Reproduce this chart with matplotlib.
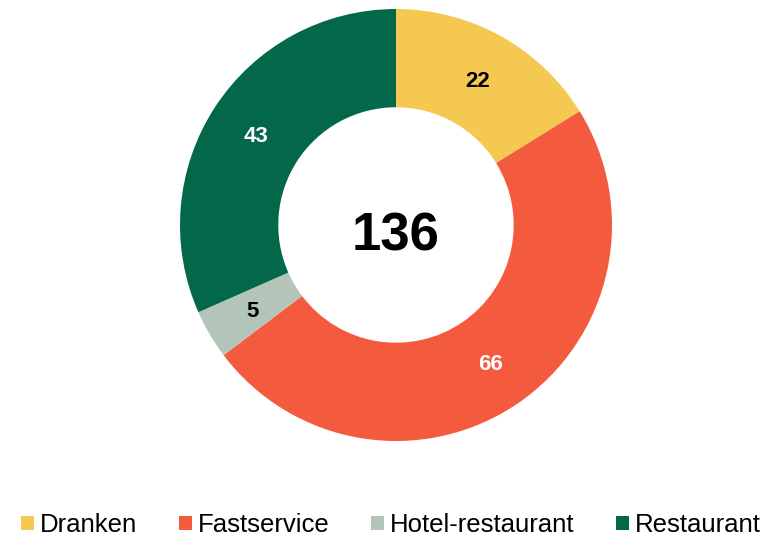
import numpy as np
import matplotlib.pyplot as plt
from matplotlib.patches import Patch

plt.rcParams['font.family'] = ['Liberation Sans', 'DejaVu Sans']

# Data
categories = ['Dranken', 'Fastservice', 'Hotel-restaurant', 'Restaurant']
values = [22, 66, 5, 43]
colors = ['#F5C851', '#F45B3E', '#B3C4B8', '#03684A']
label_colors = ['black', 'white', 'black', 'white']

W, H = 765, 540
fig = plt.figure(figsize=(W / 100, H / 100), dpi=100)

# donut centre ~ (396, 225) px, outer radius ~216 px
cx, cy, r = 396, 225, 216
ax = fig.add_axes([(cx - r) / W, (H - cy - r) / H, 2 * r / W, 2 * r / H])

ring = 0.455
wedges, _ = ax.pie(values, colors=colors, startangle=90, counterclock=False,
                   radius=1, wedgeprops=dict(width=ring, linewidth=0))

# value labels in the middle of the ring
for w, v, c in zip(wedges, values, label_colors):
    ang = np.deg2rad((w.theta1 + w.theta2) / 2)
    rr = 1 - ring / 2
    ax.text(rr * np.cos(ang), rr * np.sin(ang) - 0.01, str(v), ha='center', va='center',
            fontsize=16, fontweight='bold', color=c)

ax.text(0, -0.03, str(sum(values)), ha='center', va='center_baseline',
        fontsize=38, fontweight='bold')
ax.set_xlim(-1, 1)
ax.set_ylim(-1, 1)
ax.set_aspect('equal')
ax.axis('off')

handles = [Patch(facecolor=c, edgecolor='none') for c in colors]
fig.legend(handles, categories, loc='center', bbox_to_anchor=(391 / W, 1 - 525 / H),
           ncol=4, frameon=False, fontsize=18.5, handlelength=0.5, handleheight=0.5,
           handletextpad=0.25, columnspacing=1.6, borderpad=0, borderaxespad=0)

fig.savefig('out.png', dpi=100)
